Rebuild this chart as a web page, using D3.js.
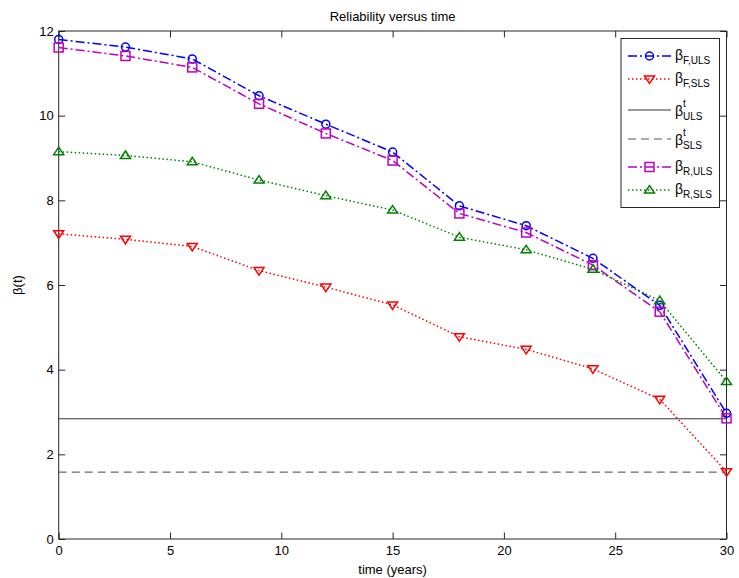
<!DOCTYPE html>
<html>
<head>
<meta charset="utf-8">
<script src="https://cdn.jsdelivr.net/npm/d3@7"></script>
<style>
  body { margin: 0; background: #fff; }
  svg { display: block; font-family: "Liberation Sans", Arial, sans-serif; }
</style>
</head>
<body>
<svg id="chart" width="739" height="578"></svg>
<script>
// ---- data ----
const years = [0, 3, 6, 9, 12, 15, 18, 21, 24, 27, 30];
const betaF_ULS = [11.80, 11.62, 11.34, 10.47, 9.80, 9.14, 7.87, 7.40, 6.63, 5.52, 2.97];
const betaF_SLS = [7.21, 7.08, 6.91, 6.34, 5.95, 5.53, 4.78, 4.48, 4.02, 3.30, 1.59];
const betaR_ULS = [11.61, 11.41, 11.14, 10.28, 9.58, 8.94, 7.69, 7.24, 6.47, 5.37, 2.85];
const betaR_SLS = [9.15, 9.06, 8.91, 8.48, 8.11, 7.77, 7.13, 6.83, 6.37, 5.63, 3.72];
const targetULS = 2.84;
const targetSLS = 1.58;
const xTicks = [0, 5, 10, 15, 20, 25, 30];
const yTicks = [0, 2, 4, 6, 8, 10, 12];
const titleText = "Reliability versus time";
const xLabel = "time (years)";
const yLabel = "\u03B2(t)";

// ---- layout ----
const svg = d3.select("#chart");
const W = 739, H = 578;
const L = 58.7, R = 726.5, T = 31, B = 539;
const x = d3.scaleLinear().domain([0, 30]).range([L, R]);
const y = d3.scaleLinear().domain([0, 12]).range([B, T]);
const axisColor = "#262626";
const fs = 13;

svg.append("rect").attr("width", W).attr("height", H).attr("fill", "#fff");

// axes with inward ticks
const tickLen = 6.5;
const gx = svg.append("g").attr("transform", `translate(0,${B})`)
  .call(d3.axisBottom(x).tickValues(xTicks).tickSizeInner(-tickLen).tickSizeOuter(0).tickPadding(5).tickFormat(d3.format("d")));
const gxt = svg.append("g").attr("transform", `translate(0,${T})`)
  .call(d3.axisTop(x).tickValues(xTicks).tickSizeInner(-tickLen).tickSizeOuter(0).tickFormat(""));
const gy = svg.append("g").attr("transform", `translate(${L},0)`)
  .call(d3.axisLeft(y).tickValues(yTicks).tickSizeInner(-tickLen).tickSizeOuter(0).tickPadding(5).tickFormat(d3.format("d")));
const gyr = svg.append("g").attr("transform", `translate(${R},0)`)
  .call(d3.axisRight(y).tickValues(yTicks).tickSizeInner(-tickLen).tickSizeOuter(0).tickFormat(""));
[gx, gxt, gy, gyr].forEach(g => {
  g.select(".domain").remove();
  g.selectAll("line").attr("stroke", axisColor).attr("stroke-width", 1);
  g.selectAll("text").attr("fill", "#000").attr("font-size", fs).attr("font-family", "Liberation Sans, Arial, sans-serif");
});
gx.selectAll("text").attr("dy", "0.85em");

// frame
svg.append("rect").attr("x", L).attr("y", T).attr("width", R - L).attr("height", B - T)
  .attr("fill", "none").attr("stroke", axisColor).attr("stroke-width", 1);

// target lines
svg.append("line").attr("x1", L).attr("x2", R).attr("y1", y(targetULS)).attr("y2", y(targetULS))
  .attr("stroke", "#333").attr("stroke-width", 1);
svg.append("line").attr("x1", L).attr("x2", R).attr("y1", y(targetSLS)).attr("y2", y(targetSLS))
  .attr("stroke", "#444").attr("stroke-width", 1).attr("stroke-dasharray", "8,5");

// series
const dashDot = "9,3,2,3";
const dotted = "1.5,2.5";
const series = [
  { vals: betaF_ULS, color: "#0000ff", dash: dashDot, marker: "circle" },
  { vals: betaF_SLS, color: "#ff0000", dash: dotted, marker: "tridown" },
  { vals: betaR_ULS, color: "#bf00bf", dash: dashDot, marker: "square" },
  { vals: betaR_SLS, color: "#008000", dash: dotted, marker: "triup" }
];

function drawMarker(g, type, cx, cy, color) {
  const sw = 1.5;
  if (type === "circle") {
    g.append("circle").attr("cx", cx).attr("cy", cy).attr("r", 4)
      .attr("fill", "none").attr("stroke", color).attr("stroke-width", sw);
  } else if (type === "square") {
    g.append("rect").attr("x", cx - 4.5).attr("y", cy - 4.5).attr("width", 9).attr("height", 9)
      .attr("fill", "none").attr("stroke", color).attr("stroke-width", sw);
  } else if (type === "tridown") {
    const s = 5;
    g.append("path").attr("d", `M${cx - s},${cy - s * 0.6} L${cx + s},${cy - s * 0.6} L${cx},${cy + s * 0.9} Z`)
      .attr("fill", "none").attr("stroke", color).attr("stroke-width", sw);
  } else if (type === "triup") {
    const s = 5;
    g.append("path").attr("d", `M${cx - s},${cy + s * 0.6} L${cx + s},${cy + s * 0.6} L${cx},${cy - s * 0.9} Z`)
      .attr("fill", "none").attr("stroke", color).attr("stroke-width", sw);
  }
}

const line = d3.line().x((d, i) => x(years[i])).y(d => y(d));
series.forEach(s => {
  svg.append("path").datum(s.vals).attr("d", line)
    .attr("fill", "none").attr("stroke", s.color).attr("stroke-width", 1.5)
    .attr("stroke-dasharray", s.dash);
});
series.forEach(s => {
  const g = svg.append("g");
  s.vals.forEach((v, i) => drawMarker(g, s.marker, x(years[i]), y(v), s.color));
});

// title and labels
svg.append("text").attr("x", (L + R) / 2).attr("y", 21).attr("text-anchor", "middle")
  .attr("font-size", fs).text(titleText);
svg.append("text").attr("x", (L + R) / 2).attr("y", 574).attr("text-anchor", "middle")
  .attr("font-size", fs).text(xLabel);
svg.append("text").attr("transform", `translate(22,${(T + B) / 2}) rotate(-90)`)
  .attr("text-anchor", "middle").attr("font-size", fs).text(yLabel);

// legend
const lg = svg.append("g");
lg.append("rect").attr("x", 621).attr("y", 38.5).attr("width", 98.5).attr("height", 169)
  .attr("fill", "#fff").attr("stroke", axisColor).attr("stroke-width", 1);
const legendItems = [
  { color: "#0000ff", dash: dashDot, marker: "circle", sub: "F,ULS", sup: null },
  { color: "#ff0000", dash: dotted, marker: "tridown", sub: "F,SLS", sup: null },
  { color: "#333", dash: null, marker: null, sub: "ULS", sup: "t" },
  { color: "#555", dash: "8,5", marker: null, sub: "SLS", sup: "t" },
  { color: "#bf00bf", dash: dashDot, marker: "square", sub: "R,ULS", sup: null },
  { color: "#008000", dash: dotted, marker: "triup", sub: "R,SLS", sup: null }
];
const rowY = [56, 79, 110, 139, 167, 190];
legendItems.forEach((it, i) => {
  const cy = rowY[i];
  const ln = lg.append("line").attr("x1", 628).attr("x2", 671).attr("y1", cy).attr("y2", cy)
    .attr("stroke", it.color).attr("stroke-width", it.marker ? 1.5 : 1);
  if (it.dash) ln.attr("stroke-dasharray", it.dash);
  if (it.marker) drawMarker(lg, it.marker, 649.5, cy, it.color);
  const base = it.sup ? cy + 6 : cy + 4;
  lg.append("text").attr("x", 675).attr("y", base).attr("font-size", 14).attr("fill", "#000").text("\u03B2");
  lg.append("text").attr("x", 683).attr("y", base + 4).attr("font-size", 10).attr("fill", "#000").text(it.sub);
  if (it.sup) lg.append("text").attr("x", 683).attr("y", cy - 3).attr("font-size", 10).attr("fill", "#000").text(it.sup);
});
</script>
</body>
</html>
